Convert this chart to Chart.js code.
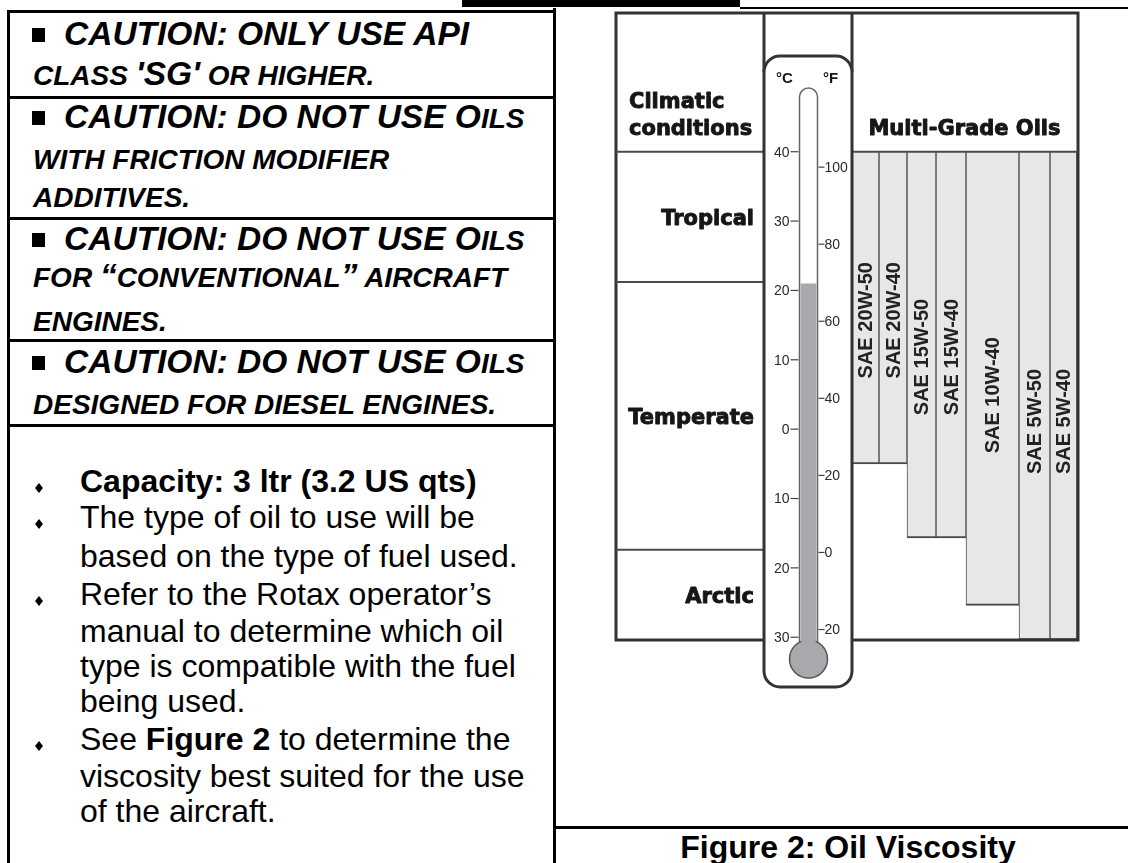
<!DOCTYPE html>
<html>
<head>
<meta charset="utf-8">
<title>Oil Viscosity</title>
<script src="https://cdn.jsdelivr.net/npm/chart.js@4.4.0/dist/chart.umd.min.js"></script>
<style>
    body { margin: 0; width: 1128px; height: 863px; background: #fff; position: relative; overflow: hidden;
           font-family: "Liberation Sans", Arial, sans-serif; color: #000; }
    .rule { position: absolute; background: #000; }
    .t { position: absolute; white-space: nowrap; line-height: 1; }
    .c { font-weight: bold; font-style: italic; font-size: 33.5px; }
    .s { font-size: 28px; }
    .sq { position: absolute; width: 13px; height: 14px; background: #000; }
    .b { font-size: 32px; }
    .dia { position: absolute; width: 8px; height: 10px; background: #000;
           clip-path: polygon(50% 0, 100% 50%, 50% 100%, 0 50%); }
    #wrap { position: absolute; left: 600px; top: 0; width: 528px; height: 700px; }
</style>
</head>
<body>

<!-- page rules -->
<div class="rule" style="left:462px;top:0;width:278px;height:7px"></div>
<div class="rule" style="left:740px;top:7px;width:388px;height:2px"></div>
<div class="rule" style="left:7px;top:10px;width:3px;height:853px"></div>
<div class="rule" style="left:553px;top:8px;width:3px;height:855px"></div>
<div class="rule" style="left:7px;top:10px;width:549px;height:3px"></div>
<div class="rule" style="left:7px;top:96px;width:549px;height:3px"></div>
<div class="rule" style="left:7px;top:217px;width:549px;height:3px"></div>
<div class="rule" style="left:7px;top:339px;width:549px;height:3px"></div>
<div class="rule" style="left:7px;top:424px;width:549px;height:3px"></div>
<div class="rule" style="left:553px;top:826px;width:575px;height:3px"></div>

<!-- cautions -->
<div class="sq" style="left:32px;top:28px"></div>
<div class="t c" style="left:64px;top:16.6px">CAUTION: ONLY USE API</div>
<div class="t c" style="left:33px;top:56.6px"><span class="s">CLASS </span>'SG'<span class="s"> OR HIGHER.</span></div>

<div class="sq" style="left:32px;top:111px"></div>
<div class="t c" style="left:64px;top:99.6px">CAUTION: DO NOT USE O<span class="s">ILS</span></div>
<div class="t c s" style="left:33px;top:146.3px">WITH FRICTION MODIFIER</div>
<div class="t c s" style="left:33px;top:184.3px">ADDITIVES.</div>

<div class="sq" style="left:32px;top:233px"></div>
<div class="t c" style="left:64px;top:221.6px">CAUTION: DO NOT USE O<span class="s">ILS</span></div>
<div class="t c" style="left:33px;top:258.6px"><span class="s">FOR </span>“<span class="s">CONVENTIONAL</span>”<span class="s"> AIRCRAFT</span></div>
<div class="t c s" style="left:33px;top:308.3px">ENGINES.</div>

<div class="sq" style="left:32px;top:356px"></div>
<div class="t c" style="left:64px;top:344.6px">CAUTION: DO NOT USE O<span class="s">ILS</span></div>
<div class="t c s" style="left:33px;top:391.3px">DESIGNED FOR DIESEL ENGINES.</div>

<!-- notes -->
<div class="dia" style="left:35px;top:483px"></div>
<div class="t b" style="left:80px;top:464.9px;font-weight:bold">Capacity: 3 ltr (3.2 US qts)</div>
<div class="dia" style="left:35px;top:519px"></div>
<div class="t b" style="left:80px;top:501.2px">The type of oil to use will be</div>
<div class="t b" style="left:80px;top:539.6px">based on the type of fuel used.</div>
<div class="dia" style="left:35px;top:596px"></div>
<div class="t b" style="left:80px;top:577.9px">Refer to the Rotax operator’s</div>
<div class="t b" style="left:80px;top:614.6px">manual to determine which oil</div>
<div class="t b" style="left:80px;top:649.6px">type is compatible with the fuel</div>
<div class="t b" style="left:80px;top:684.6px">being used.</div>
<div class="dia" style="left:35px;top:741px"></div>
<div class="t b" style="left:80px;top:722.9px">See <b>Figure 2</b> to determine the</div>
<div class="t b" style="left:80px;top:759.6px">viscosity best suited for the use</div>
<div class="t b" style="left:80px;top:794.6px">of the aircraft.</div>

<div class="t b" style="left:555px;width:586px;text-align:center;top:830.9px;font-weight:bold">Figure 2: Oil Viscosity</div>

<div id="wrap"><canvas id="chart_oil" width="528" height="700"></canvas></div>

<script>
// oil grades and the temperature band (°C) each one covers
var oils = ['SAE 20W-50', 'SAE 20W-40', 'SAE 15W-50', 'SAE 15W-40', 'SAE 10W-40', 'SAE 5W-50', 'SAE 5W-40'];
var oilLow = [-5, -5, -15.7, -15.7, -25.4, -30.4, -30.4];
var oilHigh = [40, 40, 40, 40, 40, 40, 40];

// climatic conditions column
var climates = ['Tropical', 'Temperate', 'Arctic'];
var climateHigh = [40, 21.2, -17.4];
var climateLow = [21.2, -17.4, -30.4];

// thermometer scales
var celsiusTicks = [40, 30, 20, 10, 0, -10, -20, -30];
var celsiusLabels = ['40', '30', '20', '10', '0', '10', '20', '30'];
var fahrenheitTicks = [100, 80, 60, 40, 20, 0, -20];
var fahrenheitLabels = ['100', '80', '60', '40', '20', '0', '20'];
var mercuryLevel = 21;

// look of the figure
var colWeight = [27, 28, 29, 30, 53, 31, 27];        // relative column widths
var labelAt = [15.7, 15.7, 10.4, 10.4, 4.9, 1.1, 1.1]; // °C where each name is centred
var fill = '#e6e7e8';
var line = '#4a4a4a';
var ink = '#161616';

var edges = [0];
colWeight.forEach(function (w, i) { edges.push(edges[i] + w); });

var datasets = oils.map(function (name, i) {
    return {
        label: name,
        data: [{x: (edges[i] + edges[i + 1]) / 2, y: [oilLow[i], oilHigh[i]]}],
        backgroundColor: fill,
        borderColor: line,
        borderWidth: {left: 1, right: 1, top: 0, bottom: 2},
        borderSkipped: false,
        grouped: false,
        barThickness: 10
    };
});

function fToC(f) {
    return (f - 32) * 5 / 9;
}

// heavy headline text, a touch of stroke thickens DejaVu bold
function heavyText(ctx, str, x, y) {
    ctx.strokeText(str, x, y);
    ctx.fillText(str, x, y);
}

var figurePlugin = {
    id: 'figure',
    afterDatasetsDraw: function (chart) {
        var ctx = chart.ctx;
        var y = chart.scales.y;
        var area = chart.chartArea;
        var frameL = area.left - 236;
        var frameR = area.right + 1;
        var caseL = area.left - 88;
        var caseR = area.left;
        var caseTop = 56, caseBottom = 687, r = 16;
        var tubeX = caseL + 44.5;
        var tubeTop = 88;
        var bulbY = 659, bulbR = 19;
        var y40 = y.getPixelForValue(40);

        ctx.save();
        // outer frame
        ctx.strokeStyle = '#333';
        ctx.lineWidth = 3;
        ctx.strokeRect(frameL, area.top, frameR - frameL, area.bottom - area.top);

        // header rule and climate rows
        ctx.strokeStyle = line;
        ctx.lineWidth = 2;
        ctx.beginPath();
        ctx.moveTo(frameL, y40); ctx.lineTo(caseL, y40);
        ctx.moveTo(caseR, y40); ctx.lineTo(frameR, y40);
        climateLow.forEach(function (v, i) {
            if (i < climateLow.length - 1) {
                var yy = y.getPixelForValue(v);
                ctx.moveTo(frameL, yy); ctx.lineTo(caseL, yy);
            }
        });
        ctx.stroke();

        // thermometer column
        ctx.strokeStyle = '#333';
        ctx.lineWidth = 3;
        ctx.beginPath();
        ctx.moveTo(caseL, area.top); ctx.lineTo(caseL, caseTop + r);
        ctx.moveTo(caseR, area.top); ctx.lineTo(caseR, caseTop + r);
        ctx.stroke();
        ctx.beginPath();
        ctx.roundRect(caseL, caseTop, caseR - caseL, caseBottom - caseTop, r);
        ctx.fillStyle = '#fff';
        ctx.fill();
        ctx.stroke();

        // tube
        ctx.beginPath();
        ctx.moveTo(tubeX - 9, bulbY - 12);
        ctx.lineTo(tubeX - 9, tubeTop + 9);
        ctx.arc(tubeX, tubeTop + 9, 9, Math.PI, 0);
        ctx.lineTo(tubeX + 9, bulbY - 12);
        ctx.strokeStyle = '#666';
        ctx.lineWidth = 1.5;
        ctx.stroke();

        // mercury
        var mTop = y.getPixelForValue(mercuryLevel);
        ctx.fillStyle = '#a7a9ac';
        ctx.fillRect(tubeX - 8, mTop, 16, bulbY - mTop);
        ctx.beginPath();
        ctx.arc(tubeX, bulbY, bulbR, 0, Math.PI * 2);
        ctx.fill();
        ctx.strokeStyle = '#555';
        ctx.stroke();
        ctx.fillRect(tubeX - 7.2, bulbY - bulbR - 2, 14.4, 6);

        // scale ticks
        ctx.strokeStyle = '#444';
        ctx.lineWidth = 1.2;
        ctx.fillStyle = '#2a2a2a';
        ctx.font = '14px "Liberation Sans", Arial, sans-serif';
        ctx.textBaseline = 'middle';
        ctx.textAlign = 'right';
        celsiusTicks.forEach(function (v, i) {
            var yy = y.getPixelForValue(v);
            ctx.beginPath();
            ctx.moveTo(tubeX - 18, yy); ctx.lineTo(tubeX - 10, yy);
            ctx.stroke();
            ctx.fillText(celsiusLabels[i], tubeX - 19, yy + 1);
        });
        ctx.textAlign = 'left';
        fahrenheitTicks.forEach(function (v, i) {
            var yy = y.getPixelForValue(fToC(v));
            ctx.beginPath();
            ctx.moveTo(tubeX + 10, yy); ctx.lineTo(tubeX + 16, yy);
            ctx.stroke();
            ctx.fillText(fahrenheitLabels[i], tubeX + 16, yy + 1);
        });
        ctx.font = 'bold 15px "Liberation Sans", Arial, sans-serif';
        ctx.textAlign = 'center';
        ctx.fillStyle = ink;
        ctx.fillText('°C', tubeX - 24, 79);
        ctx.fillText('°F', tubeX + 22, 79);

        // headings and climate names
        ctx.font = 'bold 21px "DejaVu Sans", sans-serif';
        ctx.strokeStyle = ink;
        ctx.lineWidth = 0.9;
        ctx.lineJoin = 'round';
        ctx.textBaseline = 'alphabetic';
        ctx.textAlign = 'left';
        heavyText(ctx, 'Climatic', frameL + 13, 108);
        heavyText(ctx, 'conditions', frameL + 13, 135);
        ctx.textAlign = 'center';
        heavyText(ctx, 'Multi-Grade Oils', (area.left + area.right) / 2, 135);
        ctx.textAlign = 'right';
        climates.forEach(function (name, i) {
            var mid = (y.getPixelForValue(climateHigh[i]) + y.getPixelForValue(climateLow[i])) / 2;
            heavyText(ctx, name, caseL - 10, mid + 8);
        });

        // oil grade names, read bottom to top
        ctx.font = 'bold 20px "Liberation Sans", Arial, sans-serif';
        ctx.fillStyle = '#222';
        ctx.textAlign = 'center';
        ctx.textBaseline = 'middle';
        oils.forEach(function (name, i) {
            var bar = chart.getDatasetMeta(i).data[0];
            ctx.save();
            ctx.translate(bar.x + 1, y.getPixelForValue(labelAt[i]));
            ctx.rotate(-Math.PI / 2);
            ctx.fillText(name, 0, 0);
            ctx.restore();
        });
        ctx.restore();
    }
};

var oilCanvas = document.getElementById('chart_oil').getContext('2d');
var oilChart = new Chart(oilCanvas, {
    type: 'bar',
    data: {datasets: datasets},
    options: {
        responsive: false,
        animation: false,
        devicePixelRatio: 1,
        layout: {padding: {left: 252, right: 51, top: 13, bottom: 60}},
        plugins: {legend: {display: false}, tooltip: {enabled: false}},
        scales: {
            x: {type: 'linear', display: false, offset: false, min: 0, max: edges[edges.length - 1]},
            y: {display: false, min: -30.4, max: 60}
        }
    },
    plugins: [figurePlugin]
});

// column widths follow the x scale
oilChart.data.datasets.forEach(function (ds, i) {
    var x = oilChart.scales.x;
    ds.barThickness = Math.abs(x.getPixelForValue(edges[i + 1]) - x.getPixelForValue(edges[i]));
});
oilChart.update('none');
</script>
</body>
</html>
